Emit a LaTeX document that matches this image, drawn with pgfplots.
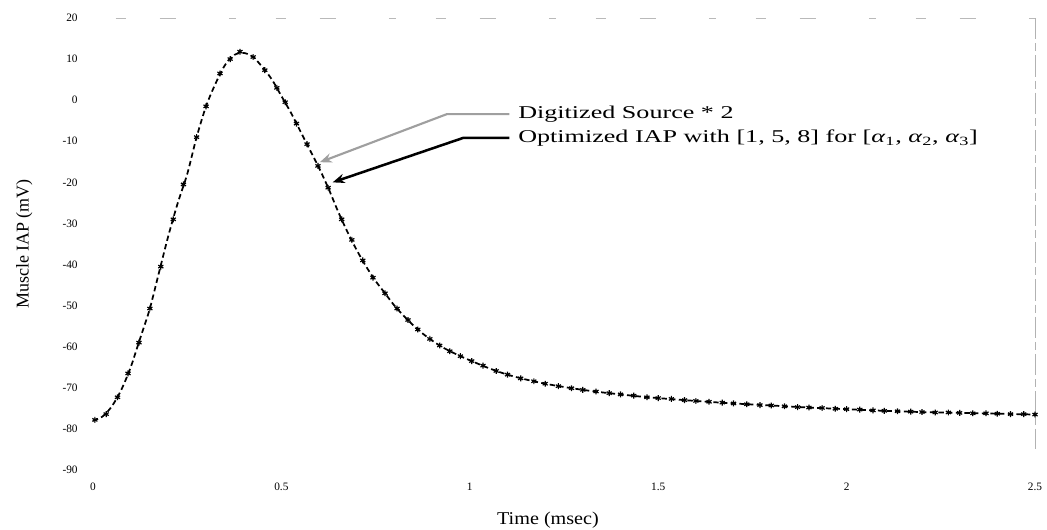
\documentclass[border=0pt]{standalone}
\usepackage{fontspec}
\setmainfont{Liberation Serif}
\newfontfamily\widefont[FakeStretch=1.45]{Liberation Serif}
\newfontfamily\labfont[FakeStretch=1.12]{Liberation Serif}
\usepackage{pgfplots}
\usepackage{pgfplotstable}
\pgfplotsset{compat=1.18}
\usetikzlibrary{arrows.meta}

\pgfplotstableread{
x y
0.000 -78.0
0.025 -77.0
0.050 -74.5
0.075 -70.5
0.100 -65.0
0.125 -58.0
0.150 -51.0
0.175 -42.0
0.200 -33.0
0.225 -25.0
0.250 -18.0
0.275 -9.0
0.300 -1.5
0.325 4.0
0.350 8.5
0.375 11.0
0.400 11.5
0.425 10.5
0.450 8.0
0.475 5.0
0.500 1.0
0.525 -3.0
0.550 -7.5
0.575 -12.0
0.600 -16.5
0.625 -21.5
0.650 -27.0
0.675 -32.0
0.700 -36.5
0.725 -40.5
0.750 -44.0
0.775 -47.0
0.800 -50.0
0.825 -52.5
0.850 -54.8
0.875 -56.8
0.900 -58.5
0.925 -60.0
0.950 -61.2
0.975 -62.3
1.000 -63.3
1.050 -65.2
1.100 -66.8
1.150 -68.0
1.200 -69.0
1.250 -69.8
1.300 -70.5
1.350 -71.1
1.400 -71.6
1.450 -72.1
1.500 -72.5
1.600 -73.2
1.700 -73.8
1.800 -74.3
1.900 -74.8
2.000 -75.2
2.100 -75.6
2.200 -75.9
2.300 -76.1
2.400 -76.3
2.500 -76.5
}\optimized

\pgfplotstableread{
x y
0.005 -77.8
0.035 -76.4
0.065 -72.3
0.093 -66.5
0.122 -59.0
0.151 -50.7
0.180 -40.5
0.213 -29.0
0.240 -20.5
0.275 -9.0
0.300 -1.5
0.337 6.5
0.364 10.0
0.390 11.8
0.425 10.5
0.456 7.3
0.488 3.0
0.510 -0.5
0.540 -5.7
0.568 -10.7
0.597 -16.0
0.624 -21.3
0.660 -29.0
0.687 -34.0
0.716 -39.0
0.743 -43.2
0.775 -47.0
0.807 -50.7
0.836 -53.5
0.862 -55.8
0.894 -58.1
0.920 -59.7
0.947 -61.1
0.975 -62.3
1.005 -63.5
1.035 -64.6
1.070 -65.9
1.100 -66.8
1.135 -67.7
1.170 -68.4
1.200 -69.0
1.235 -69.6
1.270 -70.1
1.300 -70.5
1.335 -70.9
1.370 -71.3
1.400 -71.6
1.435 -71.9
1.470 -72.3
1.500 -72.5
1.535 -72.7
1.570 -73.0
1.600 -73.2
1.635 -73.4
1.670 -73.6
1.700 -73.8
1.735 -74.0
1.770 -74.2
1.800 -74.3
1.835 -74.5
1.870 -74.7
1.900 -74.8
1.935 -74.9
1.970 -75.1
2.000 -75.2
2.035 -75.3
2.070 -75.5
2.100 -75.6
2.135 -75.7
2.170 -75.8
2.200 -75.9
2.235 -76.0
2.270 -76.0
2.300 -76.1
2.335 -76.2
2.370 -76.2
2.400 -76.3
2.435 -76.4
2.470 -76.4
2.500 -76.5
}\digitized

\begin{document}
\begin{tikzpicture}
\begin{axis}[
  width=706.5pt, height=339pt, scale only axis,
  xmin=0, xmax=2.5, ymin=-90, ymax=20,
  xtick={0,0.5,1,1.5,2,2.5},
  ytick={-90,-80,-70,-60,-50,-40,-30,-20,-10,0,10,20},
  axis line style={draw=none},
  major tick length=0pt,
  tick label style={font=\fontsize{8.5}{9}\selectfont},
  /pgf/number format/assume math mode=true,
  yticklabel style={xshift=-8pt},
  xticklabel style={yshift=-6pt},
  xlabel={Time (msec)}, ylabel={Muscle IAP (mV)},
  xlabel style={font=\labfont\fontsize{13.5}{15}\selectfont, at={(axis description cs:0.483,-0.112)}, anchor=center},
  ylabel style={font=\fontsize{13.5}{15}\selectfont, at={(axis description cs:-0.073,0.5)}, anchor=center},
  clip=false,
]
\addplot[black, line width=1.3pt, dash pattern=on 4pt off 2.5pt, smooth] table[x=x,y=y] {\optimized};
\addplot[only marks, mark=asterisk, mark size=2.2pt, black, mark options={line width=0.9pt}] table[x=x,y=y] {\digitized};

\draw[gray!55, line width=0.6pt, dash pattern=on 8pt off 25pt on 12pt off 40pt on 5pt off 30pt]
  (axis cs:0.06,20) -- (axis cs:2.5,20);
\draw[gray!60, line width=0.6pt, dash pattern=on 16pt off 3pt on 6pt off 3pt]
  (axis cs:2.5,20) -- (axis cs:2.5,-85);

\draw[gray!75, line width=1.6pt, -{Stealth[length=9pt,width=7pt]}]
  (axis cs:1.105,-3.4) -- (axis cs:0.939,-3.4) -- (axis cs:0.602,-15.1);
\draw[black, line width=1.9pt, -{Stealth[length=9pt,width=7pt]}]
  (axis cs:1.105,-9.2) -- (axis cs:0.982,-9.2) -- (axis cs:0.636,-20.0);
\node[anchor=west, font=\widefont\fontsize{13.5}{15}\selectfont, inner sep=0pt] at (axis cs:1.128,-3.4) {Digitized Source * 2};
\node[anchor=west, font=\widefont\fontsize{13.5}{15}\selectfont, inner sep=0pt] at (axis cs:1.128,-9.2) {Optimized IAP with [1, 5, 8] for [\textit{α}\textsubscript{1}, \textit{α}\textsubscript{2}, \textit{α}\textsubscript{3}]};
\end{axis}
\pgfresetboundingbox
\useasboundingbox ([shift={(-69.75pt,-45pt)}]current axis.south west) rectangle ([shift={(9pt,13.5pt)}]current axis.north east);
\end{tikzpicture}
\end{document}
